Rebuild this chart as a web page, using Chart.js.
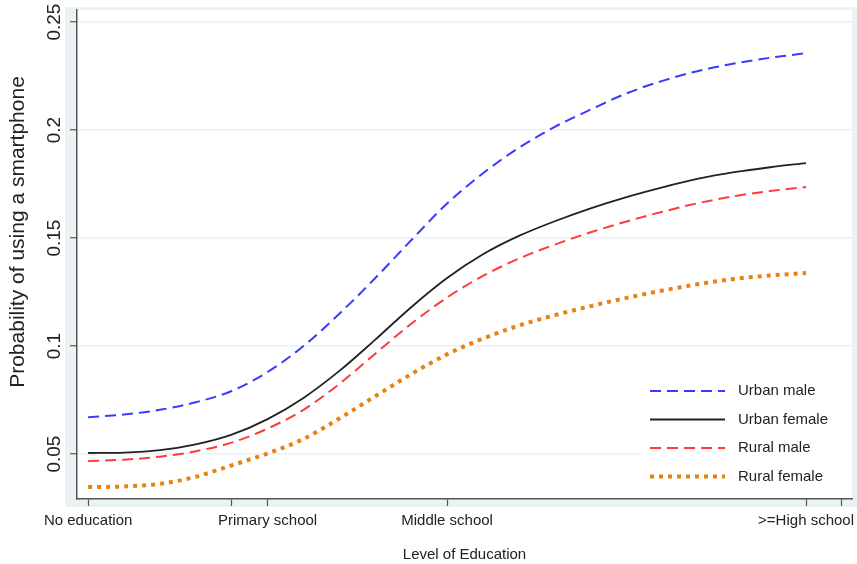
<!DOCTYPE html>
<html>
<head>
<meta charset="utf-8">
<script src="https://cdn.jsdelivr.net/npm/chart.js@4/dist/chart.umd.min.js"></script>
<style>
  html, body { margin: 0; padding: 0; background: #fff; }
  #wrap { width: 857px; height: 564px; position: relative; }
</style>
</head>
<body>
<div id="wrap"><canvas id="eduChart"></canvas></div>
<script>
// 数据：教育水平（横轴位置）
const xValues = [0, 1, 2, 3, 4, 5, 6, 7, 8, 9, 10, 11, 12, 13, 14, 15, 16, 17, 18, 19, 20];
const levelValues = [0, 5, 10, 20];
const levelLabels = ["No education", "Primary school", "Middle school", ">=High school"];
const extraTicks = [4, 21];
const yTicks = [0.05, 0.1, 0.15, 0.2, 0.25];
const yTickLabels = ["0.05", "0.1", "0.15", "0.2", "0.25"];
const yTitle = "Probability of using a smartphone";
const xTitle = "Level of Education";

const seriesNames = ["Urban male", "Urban female", "Rural male", "Rural female"];
const urbanMale = [0.0671, 0.0683, 0.0705, 0.0740, 0.0792, 0.0880, 0.1000, 0.1150, 0.1315, 0.1490, 0.1660,
  0.1800, 0.1918, 0.2015, 0.2095, 0.2170, 0.2228, 0.2274, 0.2308, 0.2335, 0.2356];
const urbanFemale = [0.0505, 0.0507, 0.0518, 0.0545, 0.0590, 0.0662, 0.0760, 0.0885, 0.1030, 0.1180, 0.1315,
  0.1425, 0.1510, 0.1578, 0.1638, 0.1690, 0.1735, 0.1775, 0.1805, 0.1828, 0.1847];
const ruralMale = [0.0468, 0.0474, 0.0488, 0.0513, 0.0553, 0.0618, 0.0705, 0.0825, 0.0965, 0.1103, 0.1225,
  0.1325, 0.1405, 0.1470, 0.1527, 0.1577, 0.1622, 0.1662, 0.1694, 0.1718, 0.1736];
const ruralFemale = [0.0347, 0.0350, 0.0362, 0.0395, 0.0448, 0.0503, 0.0570, 0.0665, 0.0768, 0.0870, 0.0962,
  0.1035, 0.1095, 0.1143, 0.1185, 0.1223, 0.1257, 0.1287, 0.1311, 0.1327, 0.1338];

const FONT = "'Liberation Sans', Arial, sans-serif";

function toPoints(arr) {
  return arr.map((y, i) => ({ x: xValues[i], y: y }));
}

// 背景（Stata 风格的浅蓝边框）
const backgroundPlugin = {
  id: "stataBackground",
  beforeDraw(chart) {
    const { ctx, chartArea } = chart;
    ctx.save();
    ctx.fillStyle = "#ffffff";
    ctx.fillRect(0, 0, chart.width, chart.height);
    ctx.fillStyle = "#eaf2f3";
    ctx.fillRect(65, 7, chart.width - 65, 507 - 7);
    ctx.fillStyle = "#ffffff";
    ctx.fillRect(chartArea.left, chartArea.top, chartArea.right - chartArea.left, chartArea.bottom - chartArea.top);
    ctx.restore();
  },
};

// 竖排的 y 轴刻度文字和轴标题
const yLabelPlugin = {
  id: "yLabels",
  afterDraw(chart) {
    const { ctx } = chart;
    const yScale = chart.scales.y;
    ctx.save();
    ctx.fillStyle = "#222";
    ctx.font = "19px " + FONT;
    ctx.textAlign = "center";
    ctx.textBaseline = "middle";
    yTicks.forEach((v, i) => {
      const py = yScale.getPixelForValue(v);
      ctx.save();
      ctx.translate(55, py);
      ctx.rotate(-Math.PI / 2);
      ctx.fillText(yTickLabels[i], 0, 0);
      ctx.restore();
    });
    // 轴标题
    ctx.font = "21px " + FONT;
    ctx.textBaseline = "alphabetic";
    ctx.translate(24, 232);
    ctx.rotate(-Math.PI / 2);
    ctx.fillText(yTitle, 0, 0);
    ctx.restore();
  },
};

// 图内图例
const legendPlugin = {
  id: "innerLegend",
  afterDatasetsDraw(chart) {
    const { ctx, chartArea } = chart;
    ctx.save();
    ctx.fillStyle = "#ffffff";
    ctx.fillRect(640, 372, chartArea.right - 640, chartArea.bottom - 372 - 1);
    ctx.font = "15px " + FONT;
    ctx.textBaseline = "middle";
    chart.data.datasets.forEach((ds, i) => {
      const y = 391 + i * 28.5;
      ctx.beginPath();
      ctx.strokeStyle = ds.borderColor;
      ctx.lineWidth = ds.borderWidth;
      ctx.lineCap = "butt";
      ctx.setLineDash(ds.borderDash || []);
      ctx.moveTo(650, y);
      ctx.lineTo(725, y);
      ctx.stroke();
      ctx.setLineDash([]);
      ctx.fillStyle = "#222";
      ctx.fillText(ds.label, 738, y);
    });
    ctx.restore();
  },
};

document.addEventListener("DOMContentLoaded", function () {
  const ctx = document.getElementById("eduChart").getContext("2d");
  new Chart(ctx, {
    type: "line",
    data: {
      datasets: [
        {
          label: seriesNames[0],
          data: toPoints(urbanMale),
          borderColor: "rgb(58, 58, 255)",
          borderWidth: 2,
          borderDash: [11, 6],
        },
        {
          label: seriesNames[1],
          data: toPoints(urbanFemale),
          borderColor: "#222222",
          borderWidth: 1.8,
          borderDash: [],
        },
        {
          label: seriesNames[2],
          data: toPoints(ruralMale),
          borderColor: "rgb(255, 58, 58)",
          borderWidth: 2,
          borderDash: [11, 6],
        },
        {
          label: seriesNames[3],
          data: toPoints(ruralFemale),
          borderColor: "rgb(232, 130, 22)",
          borderWidth: 4,
          borderDash: [4, 5],
        },
      ],
    },
    options: {
      responsive: true,
      maintainAspectRatio: false,
      animation: false,
      devicePixelRatio: 1,
      layout: { padding: { left: 0, right: 5, top: 10, bottom: 0 } },
      elements: {
        point: { radius: 0, hoverRadius: 0 },
        line: { cubicInterpolationMode: "monotone", fill: false, borderCapStyle: "butt" },
      },
      plugins: {
        legend: { display: false },
        tooltip: { enabled: false },
      },
      scales: {
        x: {
          type: "linear",
          min: -0.31,
          max: 21.28,
          afterBuildTicks(scale) {
            scale.ticks = levelValues.concat(extraTicks).sort((a, b) => a - b).map((v) => ({ value: v }));
          },
          afterFit(scale) {
            scale.height = 65;
          },
          grid: {
            drawOnChartArea: false,
            drawTicks: true,
            tickLength: 7,
            tickColor: "#555",
            tickWidth: 1.2,
          },
          border: { color: "#555", width: 1.5 },
          ticks: {
            autoSkip: false,
            maxRotation: 0,
            minRotation: 0,
            padding: 6,
            color: "#222",
            font: { family: FONT, size: 15 },
            callback(value) {
              const idx = levelValues.indexOf(value);
              return idx >= 0 ? levelLabels[idx] : "";
            },
          },
          title: {
            display: true,
            text: xTitle,
            color: "#222",
            padding: { top: 6, bottom: 0 },
            font: { family: FONT, size: 15 },
          },
        },
        y: {
          type: "linear",
          min: 0.0292,
          max: 0.2556,
          afterBuildTicks(scale) {
            scale.ticks = yTicks.map((v) => ({ value: v }));
          },
          afterFit(scale) {
            scale.width = 77;
          },
          grid: {
            color: "#eaf2f3",
            lineWidth: 1.5,
            drawTicks: true,
            tickLength: 7,
            tickColor: "#555",
            tickWidth: 1.2,
          },
          border: { color: "#555", width: 1.5 },
          ticks: { display: false },
        },
      },
    },
    plugins: [backgroundPlugin, yLabelPlugin, legendPlugin],
  });
});
</script>
</body>
</html>
